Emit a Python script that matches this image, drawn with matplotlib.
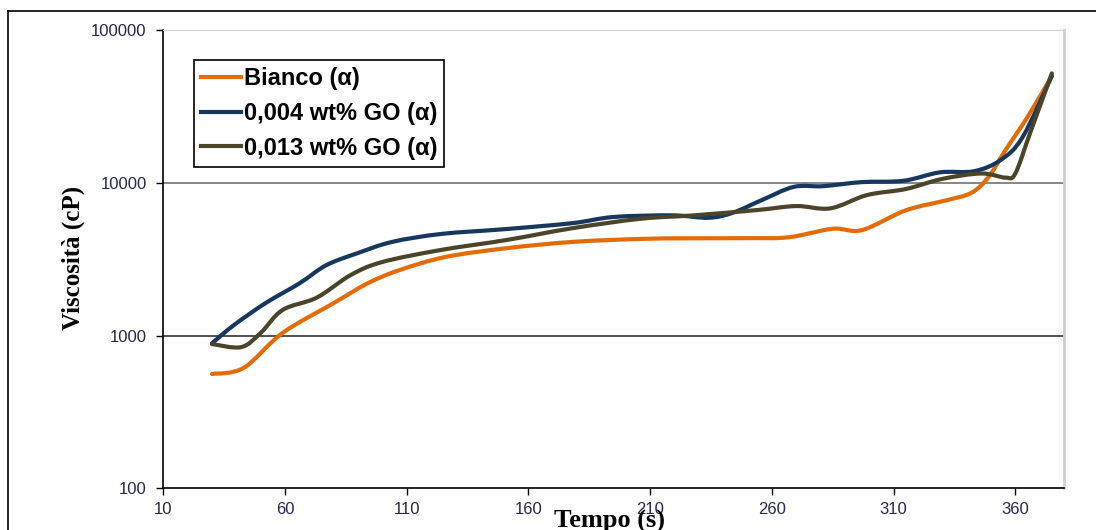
import numpy as np
import matplotlib
matplotlib.use('Agg')
import matplotlib.pyplot as plt
from matplotlib.path import Path
from matplotlib.patches import PathPatch
from matplotlib.lines import Line2D

# values (time in s, viscosity in cP)
tBianco = [30, 43, 59, 80, 94, 107, 126, 151, 178, 206, 226, 250, 267, 285, 297, 315, 332, 342, 349, 356, 365, 375]
vBianco = [560, 614, 1040, 1630, 2200, 2680, 3270, 3730, 4100, 4290, 4330, 4340, 4400, 5000, 4900, 6600, 7700, 8600, 10900, 16400, 26900, 50000]

tGO004 = [30, 39, 52, 66, 77, 90, 104, 124, 151, 178, 195, 219, 234, 244, 256, 269, 281, 297, 314, 329, 343, 354, 363, 375]
vGO004 = [890, 1170, 1630, 2200, 2890, 3470, 4100, 4620, 4980, 5440, 5970, 6120, 5900, 6370, 7720, 9400, 9500, 10100, 10300, 11700, 11900, 14100, 19900, 50000]

tGO013 = [30, 42, 50, 59, 73, 87, 100, 124, 151, 178, 206, 228, 254, 270, 284, 299, 315, 330, 346, 356, 360, 366, 375]
vGO013 = [880, 840, 1040, 1470, 1770, 2490, 3030, 3630, 4220, 5040, 5810, 6120, 6630, 7040, 6800, 8300, 9100, 10600, 11500, 10800, 11500, 21000, 52000]

labels = ['Bianco (\u03b1)', '0,004 wt% GO (\u03b1)', '0,013 wt% GO (\u03b1)']
colors = ['#E36C09', '#17375E', '#4A452A']

xticks = [10, 60, 110, 160, 210, 260, 310, 360]
yticks = [100, 1000, 10000, 100000]


def smoothPath(t, v):
    # excel-like smoothed line: bezier segments built in (t, log v) space
    x = np.asarray(t, float)
    y = np.log10(np.asarray(v, float))
    n = len(x)
    verts = [(x[0], y[0])]
    codes = [Path.MOVETO]
    for i in range(n - 1):
        i0 = max(i - 1, 0)
        i3 = min(i + 2, n - 1)
        c1 = (x[i] + (x[i + 1] - x[i0]) / 6, y[i] + (y[i + 1] - y[i0]) / 6)
        c2 = (x[i + 1] - (x[i3] - x[i]) / 6, y[i + 1] - (y[i3] - y[i]) / 6)
        verts += [c1, c2, (x[i + 1], y[i + 1])]
        codes += [Path.CURVE4] * 3
    verts = [(a, 10 ** b) for a, b in verts]
    return Path(verts, codes)


fig = plt.figure(figsize=(10.96, 5.30), dpi=100)
ax = fig.add_axes([163.3 / 1096, 41.7 / 530, 900.7 / 1096, 458.3 / 530])

ax.set_yscale('log')
ax.set_xlim(10, 380)
ax.set_ylim(100, 100000)

for level, c in zip([1000, 10000], ['#222222', '#666666']):
    ax.axhline(level, color=c, lw=1.1, zorder=1)

series = [(tBianco, vBianco), (tGO004, vGO004), (tGO013, vGO013)]
handles = []
for (t, v), c, lab in zip(series, colors, labels):
    patch = PathPatch(smoothPath(t, v), facecolor='none', edgecolor=c, lw=3, zorder=3,
                      capstyle='round', joinstyle='round')
    ax.add_patch(patch)
    handles.append(Line2D([], [], color=c, lw=3, label=lab))

ax.set_xticks(xticks)
ax.set_xticklabels([str(x) for x in xticks])
ax.set_yticks(yticks)
ax.set_yticklabels([str(y) for y in yticks])
ax.yaxis.set_minor_locator(matplotlib.ticker.NullLocator())
ax.tick_params(axis='both', direction='out', length=5, width=1, colors='black',
               labelcolor='#262650', labelsize=12, labelfontfamily='Liberation Sans')
ax.tick_params(axis='y', pad=7)
ax.tick_params(axis='x', pad=5)

ax.spines['left'].set_color('black')
ax.spines['bottom'].set_color('black')
ax.spines['left'].set_linewidth(1.2)
ax.spines['bottom'].set_linewidth(1.2)
ax.spines['top'].set_color('#d0d0d0')
ax.spines['right'].set_color('#d0d0d0')
ax.spines['right'].set_linewidth(2)

leg = ax.legend(handles=handles, loc='upper left', bbox_to_anchor=(0.034, 0.9345),
                borderaxespad=0, fancybox=False, framealpha=1, edgecolor='black',
                handlelength=1.7, handletextpad=0.1, borderpad=0.3, labelspacing=0.5,
                prop={'family': 'Liberation Sans', 'weight': 'bold', 'size': 17})
leg.get_frame().set_linewidth(1.2)

fig.text(73 / 1096, 1 - 258 / 530, 'Viscosit\u00e0 (cP)', rotation=90, ha='center', va='center',
         family='Liberation Serif', weight='bold', size=18)
fig.text(610 / 1096, 1 - 528 / 530, 'Tempo (s)', ha='center', va='baseline',
         family='Liberation Serif', weight='bold', size=19)

# outer chart border (cropped on the right and bottom)
fig.add_artist(Line2D([8 / 1096, 1.0], [1 - 11 / 530, 1 - 11 / 530], color='black', lw=1.2,
                      transform=fig.transFigure))
fig.add_artist(Line2D([8 / 1096, 8 / 1096], [0.0, 1 - 11 / 530], color='black', lw=1.2,
                      transform=fig.transFigure))

fig.savefig('out.png', dpi=100)
